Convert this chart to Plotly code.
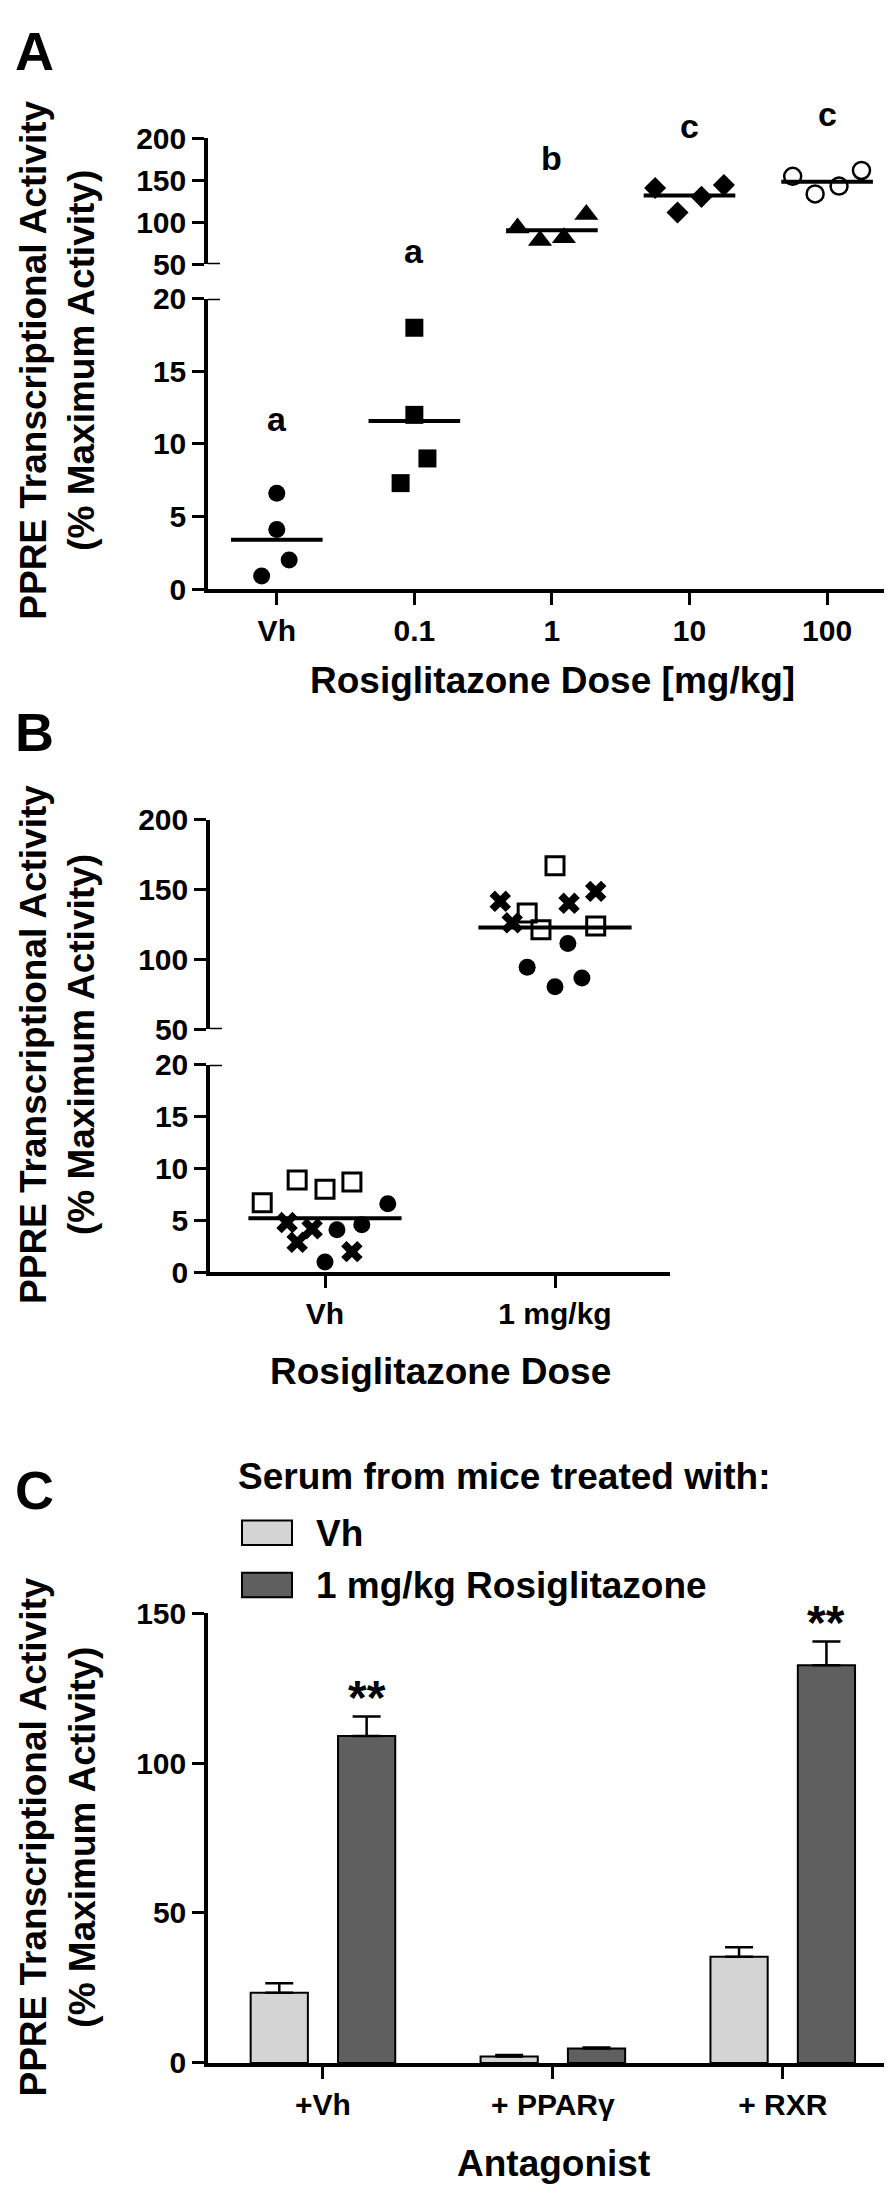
import numpy as np
import plotly.graph_objects as go

# values
dose_labels = ["Vh", "0.1", "1", "10", "100"]
a_vh = [0.9, 4.1, 2.0, 6.6]
a_d01 = [18.0, 12.0, 9.0, 7.3]
a_d1 = [93.1, 78.4, 81.5, 109.3]
a_d10 = [140.7, 111.6, 130.2, 144.2]
a_d100 = [154.7, 133.7, 143.0, 161.6]
a_letters = ["a", "a", "b", "c", "c"]

b_labels = ["Vh", "1 mg/kg"]
b_vh_open_sq = [6.7, 8.9, 8.0, 8.7]
b_vh_cross = [4.8, 2.9, 4.2, 2.0]
b_vh_dot = [1.0, 4.1, 4.6, 6.6]
b_1_open_sq = [166.9, 133.1, 121.1, 123.9]
b_1_cross = [141.5, 126.1, 140.1, 148.6]
b_1_dot = [111.3, 94.4, 80.3, 86.6]

c_labels = ["+Vh", "+ PPARγ", "+ RXR"]
c_vh = [23.4, 2.2, 35.4]
c_vh_sem = [3.2, 0.5, 3.2]
c_rosi = [109.0, 4.8, 132.6]
c_rosi_sem = [6.5, 0.4, 7.9]
c_stars = ["**", "", "**"]

W, H = 892, 2198
FONT = "Liberation Sans, Arial, Helvetica, sans-serif"
LIGHT = "#d4d4d4"
DARK = "#5f5f5f"


def fx(px):
    return px / W


def fy(py):
    return 1 - py / H


def bold(size):
    return dict(family=FONT, size=size, color="black", weight="bold")


def txt(s, x, y, size, xanchor="center", yanchor="middle", angle=0, xref="paper", yref="paper", yshift=0):
    return dict(text=s, x=x, y=y, xref=xref, yref=yref, showarrow=False,
                font=bold(size), xanchor=xanchor, yanchor=yanchor, textangle=angle,
                yshift=yshift)


def dots(cat, values, offsets, xa, ya, marker):
    return go.Scatter(x=[cat + o for o in offsets], y=values, xaxis=xa, yaxis=ya,
                      mode="markers", marker=marker, cliponaxis=False,
                      showlegend=False, hoverinfo="y")


def mean_line(cat, values, xa, ya, half=0.333):
    m = float(np.mean(values))
    return go.Scatter(x=[cat - half, cat + half], y=[m, m], xaxis=xa, yaxis=ya,
                      mode="lines", line=dict(color="black", width=4),
                      cliponaxis=False, showlegend=False, hoverinfo="skip")


fig = go.Figure()

# ---------------- panel A ----------------
a_groups = [a_vh, a_d01, a_d1, a_d10, a_d100]
a_axes = ["y", "y", "y2", "y2", "y2"]
a_jitter = [
    [-0.11, 0.0, 0.09, 0.0],
    [0.0, 0.0, 0.095, -0.10],
    [-0.25, -0.087, 0.087, 0.25],
    [-0.25, -0.087, 0.087, 0.25],
    [-0.25, -0.087, 0.087, 0.25],
]
a_markers = [
    dict(symbol="circle", size=17, color="black"),
    dict(symbol="square", size=18, color="black"),
    dict(symbol="triangle-up", size=21, color="black"),
    dict(symbol="diamond", size=17, color="black"),
    dict(symbol="circle-open", size=17, color="black", line=dict(width=2.5, color="black")),
]
for i, vals in enumerate(a_groups):
    fig.add_trace(dots(i, vals, a_jitter[i], "x", a_axes[i], a_markers[i]))
    fig.add_trace(mean_line(i, vals, "x", a_axes[i]))

# ---------------- panel B ----------------
b_sets = [
    (0, b_vh_open_sq, [-0.273, -0.121, 0.0, 0.117], "y3"),
    (0, b_vh_cross, [-0.165, -0.121, -0.056, 0.117], "y3"),
    (0, b_vh_dot, [0.0, 0.052, 0.16, 0.273], "y3"),
    (1, b_1_open_sq, [0.0, -0.121, -0.061, 0.177], "y4"),
    (1, b_1_cross, [-0.238, -0.186, 0.061, 0.177], "y4"),
    (1, b_1_dot, [0.056, -0.121, 0.0, 0.117], "y4"),
]
b_markers = [
    dict(symbol="square-open", size=18, color="black", line=dict(width=3, color="black")),
    dict(symbol="x", size=19, color="black"),
    dict(symbol="circle", size=17, color="black"),
]
for k, (cat, vals, offs, ya) in enumerate(b_sets):
    fig.add_trace(dots(cat, vals, offs, "x2", ya, b_markers[k % 3]))
fig.add_trace(mean_line(0, b_vh_open_sq + b_vh_cross + b_vh_dot, "x2", "y3"))
fig.add_trace(mean_line(1, b_1_open_sq + b_1_cross + b_1_dot, "x2", "y4"))

# ---------------- panel C ----------------
cx = list(range(len(c_labels)))
for vals, sem, col in [(c_vh, c_vh_sem, LIGHT), (c_rosi, c_rosi_sem, DARK)]:
    fig.add_trace(go.Bar(
        x=cx, y=vals, xaxis="x3", yaxis="y5", showlegend=False,
        marker=dict(color=col, line=dict(color="black", width=2)),
        error_y=dict(type="data", array=sem, arrayminus=[0] * len(sem), symmetric=False,
                     color="black", thickness=2.5, width=14),
    ))

# ---------------- axes ----------------
axis_common = dict(showline=True, linecolor="black", linewidth=3.5, ticks="outside",
                   ticklen=12, tickwidth=3, tickcolor="black", showgrid=False,
                   zeroline=False, tickfont=bold(30), fixedrange=True)

fig.update_layout(
    width=W, height=H, autosize=False,
    margin=dict(l=0, r=0, t=0, b=0),
    paper_bgcolor="white", plot_bgcolor="white",
    barmode="group", bargap=0.24, bargroupgap=0.345,
    xaxis=dict(domain=[fx(200), fx(892)], range=[-0.5, 4.53], anchor="y",
               tickmode="array", tickvals=list(range(5)), ticktext=dose_labels, **axis_common),
    yaxis=dict(domain=[fy(573), fy(278)], range=[0, 20], anchor="x",
               tickmode="array", tickvals=[0, 5, 10, 15, 20], **axis_common),
    yaxis2=dict(domain=[fy(243), fy(115)], range=[50, 200], anchor="x",
                tickmode="array", tickvals=[50, 100, 150, 200], **axis_common),
    xaxis2=dict(domain=[fx(202), fx(662)], range=[-0.5, 1.5], anchor="y3",
                tickmode="array", tickvals=[0, 1], ticktext=b_labels, **axis_common),
    yaxis3=dict(domain=[fy(1267), fy(1056)], range=[0, 20], anchor="x2",
                tickmode="array", tickvals=[0, 5, 10, 15, 20], **axis_common),
    yaxis4=dict(domain=[fy(1020), fy(807)], range=[50, 200], anchor="x2",
                tickmode="array", tickvals=[50, 100, 150, 200], **axis_common),
    xaxis3=dict(domain=[fx(200), fx(892)], range=[-0.5, 2.51], anchor="y5",
                tickmode="array", tickvals=cx, ticktext=c_labels, **axis_common),
    yaxis5=dict(domain=[fy(2070), fy(1613)], range=[0, 150], anchor="x3",
                tickmode="array", tickvals=[0, 50, 100, 150], **axis_common),
)

# axis-break caps poking right of the y axis line
shapes = []
for xd, ya, yv, span in [("x domain", "y", 20, 692), ("x domain", "y2", 50, 692),
                         ("x2 domain", "y3", 20, 460), ("x2 domain", "y4", 50, 460)]:
    shapes.append(dict(type="line", xref=xd, yref=ya, x0=0, x1=12 / span,
                       y0=yv, y1=yv, line=dict(color="black", width=3)))

# legend boxes for panel C
for top, col in [(1519, LIGHT), (1572, DARK)]:
    shapes.append(dict(type="rect", xref="paper", yref="paper",
                       x0=fx(234), x1=fx(284), y0=fy(top + 25), y1=fy(top),
                       fillcolor=col, line=dict(color="black", width=2)))
fig.update_layout(shapes=shapes)

ytitle = "PPRE Transcriptional Activity<br>(% Maximum Activity)"
ann = [
    txt("A", fx(26), fy(26), 54),
    txt("B", fx(26), fy(718), 54),
    txt("C", fx(26), fy(1488), 54),
    txt(ytitle, fx(50), fy(341), 37, angle=-90),
    txt(ytitle, fx(50), fy(1036), 37, angle=-90),
    txt(ytitle, fx(50), fy(1841), 37, angle=-90),
    txt("Rosiglitazone Dose [mg/kg]", fx(544), fy(666), 37),
    txt("Rosiglitazone Dose", fx(432), fy(1368), 37),
    txt("Antagonist", fx(545), fy(2172), 37),
    txt("Serum from mice treated with:", fx(228), fy(1474), 37, xanchor="left"),
    txt("Vh", fx(306), fy(1532), 37, xanchor="left"),
    txt("1 mg/kg Rosiglitazone", fx(306), fy(1585), 37, xanchor="left"),
]
letter_y = [400, 230, 135, 103, 90]
for i, s in enumerate(a_letters):
    ann.append(txt(s, i, fy(letter_y[i]), 34, xref="x"))
for i, s in enumerate(c_stars):
    if s:
        ann.append(txt(s, i + 0.19, c_rosi[i] + c_rosi_sem[i], 48, xref="x3", yref="y5",
                       yshift=19))
fig.update_layout(annotations=ann)

fig.write_html("out.html")
